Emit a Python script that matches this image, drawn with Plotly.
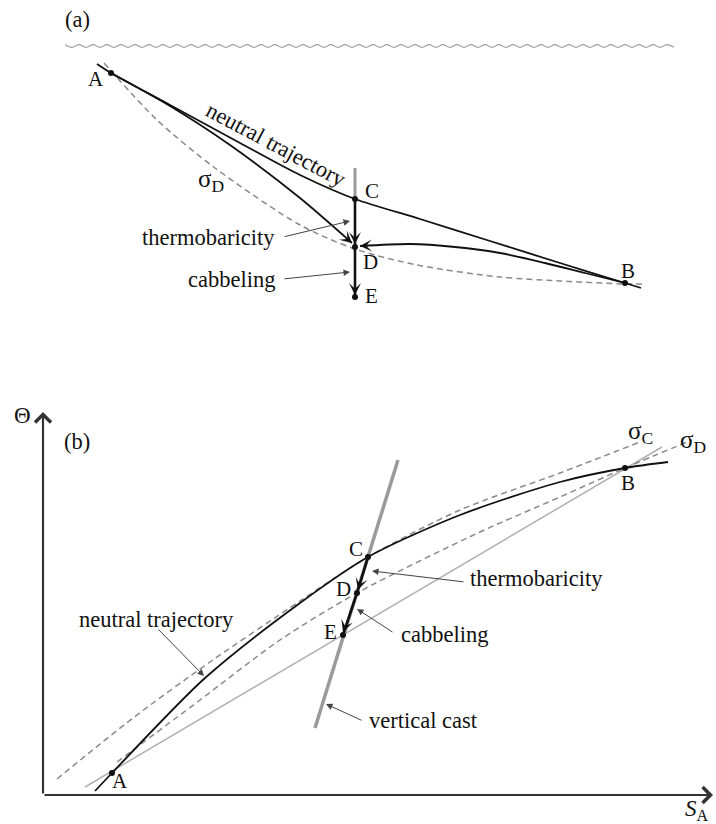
import math
import plotly.graph_objects as go

# ---------------- data: schematic coordinates (pixels of the 716x824 figure) ----------------
# Panel (a): vertical section
A_POINT_NAMES = ["A", "B", "C", "D", "E"]
A_POINT_X = [111, 625, 355, 355, 355]
A_POINT_Y = [73, 283, 199, 247, 297]
A_NAME_X = [96, 628, 372, 370, 371]
A_NAME_Y = [79, 271, 191, 262, 296]

A_NEUTRAL_X = [97, 111, 170, 240, 300, 355, 420, 490, 560, 625, 641]
A_NEUTRAL_Y = [64, 73, 105, 143, 175, 199, 219, 241, 263, 283, 288]

A_THERMO_X = [111, 170, 230, 300, 352]
A_THERMO_Y = [73, 106, 145, 198, 243]

A_RETURN_X = [625, 585, 545, 500, 455, 410, 360]
A_RETURN_Y = [283, 273, 263, 253, 247, 244, 246]

A_SIGMA_D_X = [104, 157, 215, 300, 355, 417, 500, 560, 625, 642]
A_SIGMA_D_Y = [63, 120, 168, 225, 249, 265, 277, 281, 284, 284]

A_CAST_X = [355, 355]
A_CAST_Y = [168, 200]
A_DROP_X = [355, 355]
A_DROP_Y = [199, 297]

# Panel (b): Absolute Salinity - Conservative Temperature diagram
B_POINT_NAMES = ["A", "B", "C", "D", "E"]
B_POINT_X = [112, 625, 368, 357, 343]
B_POINT_Y = [773, 468, 557, 593, 635]
B_NAME_X = [120, 628, 356, 343, 330]
B_NAME_Y = [781, 483, 549, 589, 632]

B_NEUTRAL_X = [95, 112, 205, 300, 368, 460, 560, 625, 668]
B_NEUTRAL_Y = [791, 773, 678, 603, 557, 515, 482, 468, 462]

B_SIGMA_C_X = [57, 133, 210, 300, 368, 460, 560, 640]
B_SIGMA_C_Y = [779, 718, 662, 601, 557, 510, 473, 442]

B_SIGMA_D_X = [117, 200, 280, 357, 480, 560, 625, 692]
B_SIGMA_D_Y = [762, 700, 640, 593, 532, 497, 468, 440]

B_CHORD_X = [85, 662]
B_CHORD_Y = [787, 447]

B_CAST_X = [398, 315]
B_CAST_Y = [460, 728]

B_AXIS_ORIGIN = (43, 795)
B_AXIS_X_END = (713, 795)
B_AXIS_Y_END = (43, 412)

# text labels: (text, x, y, xanchor, angle)
A_TEXTS = [
    ("(a)", 77, 19, "center", 0),
    ("neutral trajectory", 276, 144, "center", 28),
    ("thermobaricity", 277, 237, "right", 0),
    ("cabbeling", 277, 279, "right", 0),
]
B_TEXTS = [
    ("(b)", 77, 441, "center", 0),
    ("neutral trajectory", 156, 619, "center", 0),
    ("thermobaricity", 468, 578, "left", 0),
    ("cabbeling", 399, 634, "left", 0),
    ("vertical cast", 367, 720, "left", 0),
]
SIGMA_LABELS = [
    ("σ<sub>D</sub>", 211, 180),
    ("σ<sub>C</sub>", 640, 432),
    ("σ<sub>D</sub>", 693, 441),
]
AXIS_LABELS = [
    ("Θ", 22, 415),
    ("<i>S</i><sub>A</sub>", 697, 810),
]

# pointer arrows: (tail_x, tail_y, tip_x, tip_y)
POINTERS = [
    (283, 237, 350, 221),
    (283, 279, 350, 272),
    (157, 628, 204, 676),
    (465, 582, 372, 571),
    (394, 633, 357, 609),
    (363, 721, 326, 704),
]

# ---------------- figure ----------------
FONT = "Liberation Serif, Times New Roman, DejaVu Serif, serif"
BLACK = "#111111"
DASH_GREY = "#8a8a8a"
CAST_GREY = "#9a9a9a"
LIGHT_GREY = "#b0b0b0"

fig = go.Figure()


def line(xs, ys, color, width, dash="solid", shape="spline", smoothing=0.8):
    fig.add_trace(go.Scatter(
        x=xs, y=ys, mode="lines",
        line=dict(color=color, width=width, dash=dash, shape=shape,
                  smoothing=smoothing if shape == "spline" else None),
        hoverinfo="skip"))


# sea surface (decorative wavy line)
wave_x, wave_y = [], []
xx, k = 65.0, 0
while xx <= 680:
    wave_x.append(xx)
    wave_y.append(44.7 if k % 2 == 0 else 47.3)
    xx += 7.0
    k += 1
line(wave_x, wave_y, "#a0a0a0", 1.3, smoothing=1.0)

# panel (a)
line(A_SIGMA_D_X, A_SIGMA_D_Y, DASH_GREY, 1.5, dash="6px,4px")
line(A_CAST_X, A_CAST_Y, CAST_GREY, 3, shape="linear")
line(A_NEUTRAL_X, A_NEUTRAL_Y, BLACK, 1.8)
line(A_THERMO_X, A_THERMO_Y, BLACK, 1.8)
line(A_RETURN_X, A_RETURN_Y, BLACK, 1.8)
line(A_DROP_X, A_DROP_Y, BLACK, 2.6, shape="linear")

# panel (b)
line(B_CHORD_X, B_CHORD_Y, LIGHT_GREY, 1.5, shape="linear")
line(B_SIGMA_C_X, B_SIGMA_C_Y, DASH_GREY, 1.5, dash="6px,4px")
line(B_SIGMA_D_X, B_SIGMA_D_Y, DASH_GREY, 1.5, dash="6px,4px")
line(B_CAST_X, B_CAST_Y, CAST_GREY, 3.5, shape="linear")
line(B_NEUTRAL_X, B_NEUTRAL_Y, BLACK, 1.8)
line([B_POINT_X[2], B_POINT_X[3], B_POINT_X[4]],
     [B_POINT_Y[2], B_POINT_Y[3], B_POINT_Y[4]], BLACK, 2.6, shape="linear")

# points
fig.add_trace(go.Scatter(x=A_POINT_X + B_POINT_X, y=A_POINT_Y + B_POINT_Y,
                         mode="markers", marker=dict(color=BLACK, size=6),
                         hoverinfo="skip"))

annotations = []


def text(t, x, y, size=22.5, xanchor="center", angle=0, family=FONT):
    annotations.append(dict(text=t, x=x, y=y, xref="x", yref="y", showarrow=False,
                            xanchor=xanchor, yanchor="middle", textangle=angle,
                            font=dict(family=family, size=size, color=BLACK)))


def arrow(tx, ty, hx, hy, color, width, head, size):
    annotations.append(dict(text="", x=hx, y=hy, ax=tx, ay=ty, xref="x", yref="y",
                            axref="x", ayref="y", showarrow=True, arrowhead=head,
                            arrowsize=size, arrowwidth=width, arrowcolor=color,
                            standoff=0, startstandoff=0))


def end_head(xs, ys, color=BLACK, width=2.0, back=9):
    hx, hy = xs[-1], ys[-1]
    dx, dy = hx - xs[-2], hy - ys[-2]
    n = math.hypot(dx, dy)
    arrow(hx - back * dx / n, hy - back * dy / n, hx, hy, color, width, 3, 1.0)


# point names
for n, x, y in zip(A_POINT_NAMES, A_NAME_X, A_NAME_Y):
    text(n, x, y, size=21)
for n, x, y in zip(B_POINT_NAMES, B_NAME_X, B_NAME_Y):
    text(n, x, y, size=21)

for t, x, y, xa, ang in A_TEXTS + B_TEXTS:
    text(t, x, y, xanchor=xa, angle=ang)
for t, x, y in SIGMA_LABELS:
    text(t, x, y, size=25)
for t, x, y in AXIS_LABELS:
    text(t, x, y, size=23)

# arrowheads of the process paths
end_head(A_THERMO_X, A_THERMO_Y)
end_head(A_RETURN_X, A_RETURN_Y)
end_head([A_POINT_X[2], A_POINT_X[3]], [A_POINT_Y[2], A_POINT_Y[3] - 3])
end_head([A_POINT_X[3], A_POINT_X[4]], [A_POINT_Y[3], A_POINT_Y[4] - 2])
end_head([B_POINT_X[2], B_POINT_X[3] + 1], [B_POINT_Y[2], B_POINT_Y[3] - 3])
end_head([B_POINT_X[3], B_POINT_X[4]], [B_POINT_Y[3], B_POINT_Y[4] - 3])

# pointer arrows
for tx, ty, hx, hy in POINTERS:
    arrow(tx, ty, hx, hy, "#444444", 1.0, 2, 1.3)

# axes of panel (b)
arrow(B_AXIS_ORIGIN[0], B_AXIS_ORIGIN[1], B_AXIS_X_END[0], B_AXIS_X_END[1], "#333333", 2.2, 4, 1.4)
arrow(B_AXIS_ORIGIN[0], B_AXIS_ORIGIN[1], B_AXIS_Y_END[0], B_AXIS_Y_END[1], "#333333", 2.2, 4, 1.4)

fig.update_layout(
    width=716, height=824,
    margin=dict(l=0, r=0, t=0, b=0),
    paper_bgcolor="white", plot_bgcolor="white",
    showlegend=False,
    font=dict(family=FONT),
    xaxis=dict(range=[0, 716], visible=False, fixedrange=True),
    yaxis=dict(range=[824, 0], visible=False, fixedrange=True),
    annotations=annotations,
)

fig.write_html("out.html", config={"displayModeBar": False},
               post_script="document.body.style.margin='0px';")
